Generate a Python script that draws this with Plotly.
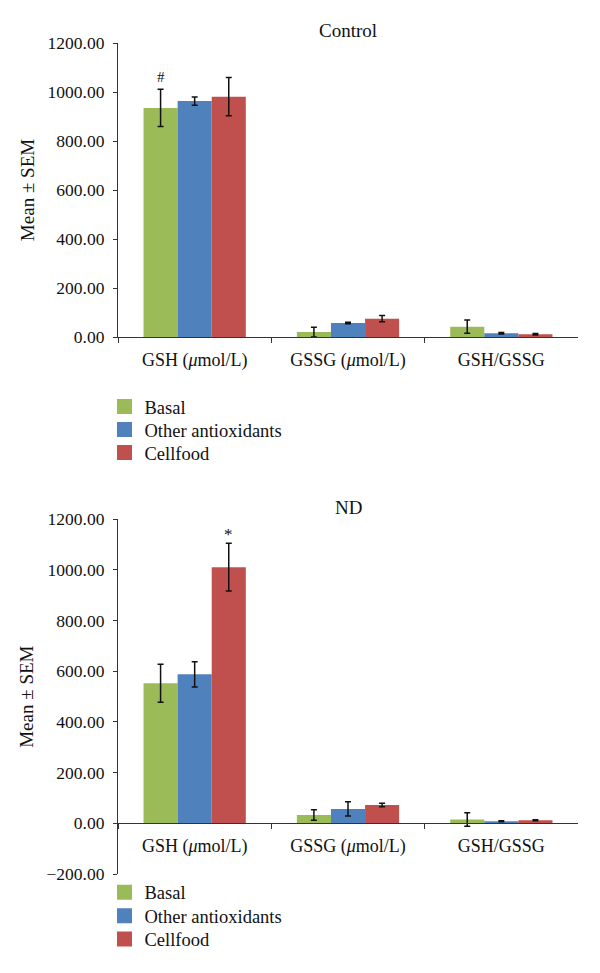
import plotly.graph_objects as go

categories = ["GSH (<i>μ</i>mol/L)", "GSSG (<i>μ</i>mol/L)", "GSH/GSSG"]
series_names = ["Basal", "Other antioxidants", "Cellfood"]
colors = ["#9BBB59", "#4F81BD", "#C0504D"]

control_basal = [935, 20, 42]
control_basal_err = [76, 20, 27]
control_other = [963, 57, 15]
control_other_err = [17, 3, 3]
control_cellfood = [981, 75, 11]
control_cellfood_err = [78, 13, 3]

nd_basal = [553, 33, 15]
nd_basal_err = [75, 21, 27]
nd_other = [588, 57, 8]
nd_other_err = [50, 28, 2]
nd_cellfood = [1011, 72, 12]
nd_cellfood_err = [94, 7, 2]

y_ticks_top = [0, 200, 400, 600, 800, 1000, 1200]
y_ticks_bottom = [-200, 0, 200, 400, 600, 800, 1000, 1200]

FONT = "Liberation Serif"
FS = 17.5
W, H = 600, 973
OFF = 8  # page body margin offset

def py(pix):
    return 1 - (pix - OFF) / H

def px(pix):
    return (pix - OFF) / W

fig = go.Figure()

control = [(control_basal, control_basal_err), (control_other, control_other_err),
           (control_cellfood, control_cellfood_err)]
nd = [(nd_basal, nd_basal_err), (nd_other, nd_other_err), (nd_cellfood, nd_cellfood_err)]

for i, (vals, errs) in enumerate(control):
    fig.add_trace(go.Bar(
        x=categories, y=vals, name=series_names[i], marker=dict(color=colors[i], line=dict(width=0)),
        error_y=dict(type="data", array=errs, color="#111", thickness=1.5, width=3),
        xaxis="x", yaxis="y", showlegend=False))
for i, (vals, errs) in enumerate(nd):
    fig.add_trace(go.Bar(
        x=categories, y=vals, name=series_names[i], marker=dict(color=colors[i], line=dict(width=0)),
        error_y=dict(type="data", array=errs, color="#111", thickness=1.5, width=3),
        xaxis="x2", yaxis="y2", showlegend=False))

# legend entries: one legend per item so that font size and spacing both match
LFS = 18.5
legend_layout = {}
legend_rows = [(["legend", "legend2", "legend3"], "x", "y", [407, 430, 453]),
               (["legend4", "legend5", "legend6"], "x2", "y2", [892.7, 916.2, 939.5])]
for names, xa, ya, ys in legend_rows:
    for i in range(3):
        fig.add_trace(go.Scatter(
            x=[None], y=[None], mode="markers", name=series_names[i],
            marker=dict(symbol="square", size=15, color=colors[i]),
            xaxis=xa, yaxis=ya, legend=names[i], showlegend=True))
        legend_layout[names[i]] = dict(
            x=px(104.5), y=py(ys[i]), xanchor="left", yanchor="middle", bgcolor="rgba(0,0,0,0)",
            font=dict(family=FONT, size=LFS, color="#111"), borderwidth=0)

xdom = [px(118), px(578)]
axis_color = "#333"
common_x = dict(type="category", range=[-0.5, 2.5], showline=True, linecolor=axis_color, linewidth=1.2,
                ticks="outside", tickson="boundaries", ticklen=5, tickcolor=axis_color,
                tickfont=dict(family=FONT, size=18, color="#111"), showgrid=False, zeroline=False,
                domain=xdom, automargin=False, ticklabelstandoff=6)
common_y = dict(showline=True, linecolor=axis_color, linewidth=1.2, ticks="outside", ticklen=4,
                tickcolor=axis_color, tickformat=".2f", showgrid=False, zeroline=False,
                tickfont=dict(family=FONT, size=FS, color="#111"), automargin=False,
                ticklabelstandoff=5,
                title=dict(text="Mean ± SEM", font=dict(family=FONT, size=19, color="#111"), standoff=7))

fig.update_layout(
    width=W, height=H, margin=dict(l=0, r=0, t=0, b=0, autoexpand=False),
    paper_bgcolor="white", plot_bgcolor="white",
    barmode="group", bargap=0.333, bargroupgap=0,
    font=dict(family=FONT, size=FS, color="#111"),
    xaxis=dict(**common_x, anchor="y"),
    yaxis=dict(**common_y, range=[0, 1200], tickvals=y_ticks_top, domain=[py(337), py(43)], anchor="x"),
    xaxis2=dict(**common_x, anchor="free", position=py(823.3)),
    yaxis2=dict(**common_y, range=[-200, 1200], tickvals=y_ticks_bottom, domain=[py(874), py(519.3)],
                anchor="x2"),
    showlegend=True,
    **legend_layout,
)

fig.add_annotation(text="Control", xref="paper", yref="paper", x=(xdom[0] + xdom[1]) / 2, y=py(30.5),
                   yanchor="middle", showarrow=False, font=dict(family=FONT, size=19, color="#111"))
fig.add_annotation(text="ND", xref="paper", yref="paper", x=(xdom[0] + xdom[1]) / 2, y=py(507),
                   yanchor="middle", showarrow=False, font=dict(family=FONT, size=19, color="#111"))

bar_w = (1 - 0.333) / 3
fig.add_annotation(text="#", xref="x", yref="y", x=0 - bar_w, y=control_basal[0] + control_basal_err[0],
                   yanchor="bottom", yshift=2, showarrow=False, font=dict(family=FONT, size=15, color="#111"))
fig.add_annotation(text="*", xref="x2", yref="y2", x=0 + bar_w, y=nd_cellfood[0] + nd_cellfood_err[0],
                   yanchor="bottom", yshift=-3, showarrow=False, font=dict(family=FONT, size=17, color="#111"))

fig.write_html("out.html")
